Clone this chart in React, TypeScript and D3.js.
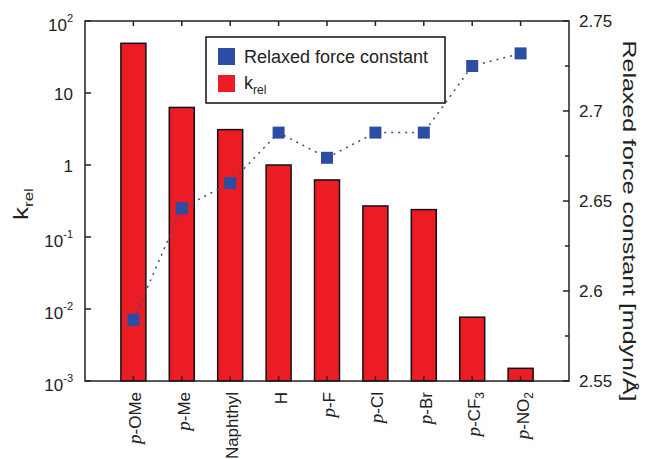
import React from 'react';
import { scaleLog, scaleLinear, scalePoint, line } from 'd3';

// categories, as printed under the bars
const categories = ['p-OMe', 'p-Me', 'Naphthyl', 'H', 'p-F', 'p-Cl', 'p-Br', 'p-CF3', 'p-NO2'];
// relative rate constants (left, log axis)
const krel = [49, 6.3, 3.1, 1.0, 0.62, 0.27, 0.24, 0.0077, 0.0015];
// relaxed force constants in mdyn/Å (right axis)
const forceConst = [2.584, 2.646, 2.66, 2.688, 2.674, 2.688, 2.688, 2.725, 2.732];

const leftTicks = [1e2, 1e1, 1, 1e-1, 1e-2, 1e-3];
const leftTickLabels: [string, string][] = [['10', '2'], ['10', ''], ['1', ''], ['10', '-1'], ['10', '-2'], ['10', '-3']];
const rightTicks = [2.55, 2.6, 2.65, 2.7, 2.75];
const rightMinorTicks = [2.575, 2.625, 2.675, 2.725];

const W = 649;
const H = 459;
const m = { left: 85, right: 569, top: 21, bottom: 381 };

const RED = '#ec1c24';
const BLUE = '#2b4ea4';
const AXIS = '#222';
const SANS = '"Liberation Sans", Arial, Helvetica, sans-serif';
const SERIF = '"Liberation Serif", "Times New Roman", serif';

// splits "p-CF3" into italic p, body and subscript digits
function CategoryLabel({ name }: { name: string }) {
  const italic = name.startsWith('p-');
  const rest = italic ? name.slice(1) : name;
  const match = rest.match(/^(.*?)(\d*)$/);
  const body = match ? match[1] : rest;
  const sub = match ? match[2] : '';
  return (
    <>
      {italic && <tspan fontFamily={SERIF} fontStyle="italic" fontSize={19}>p</tspan>}
      <tspan>{body}</tspan>
      {sub && <tspan fontSize={12} dy={4}>{sub}</tspan>}
    </>
  );
}

export default function App() {
  const x = scalePoint<string>().domain(categories).range([m.left, m.right]).padding(1);
  const yLeft = scaleLog().domain([1e-3, 1e2]).range([m.bottom, m.top]);
  const yRight = scaleLinear().domain([2.55, 2.75]).range([m.bottom, m.top]);

  const barW = 25;
  const sq = 12;

  const pts = categories.map((c, i) => [x(c) as number, yRight(forceConst[i])] as [number, number]);
  const path = line()(pts) || '';

  return (
    <svg width={W} height={H} style={{ position: 'absolute', left: 0, top: 0, background: '#fff' }}
      fontFamily={SANS}>
      {/* bars */}
      {categories.map((c, i) => (
        <rect key={c}
          x={(x(c) as number) - barW / 2}
          y={yLeft(krel[i])}
          width={barW}
          height={m.bottom - yLeft(krel[i])}
          fill={RED} stroke="#111" strokeWidth={1.5} />
      ))}

      {/* frame */}
      <rect x={m.left} y={m.top} width={m.right - m.left} height={m.bottom - m.top}
        fill="none" stroke={AXIS} strokeWidth={1.5} />

      {/* category ticks top and bottom */}
      {categories.map(c => (
        <g key={c} stroke={AXIS} strokeWidth={1.5}>
          <line x1={x(c)} x2={x(c)} y1={m.top} y2={m.top + 5} />
          <line x1={x(c)} x2={x(c)} y1={m.bottom} y2={m.bottom - 5} />
        </g>
      ))}

      {/* left log axis */}
      {leftTicks.map((t, i) => {
        const y = yLeft(t);
        const [base, exp] = leftTickLabels[i];
        return (
          <g key={t}>
            <line x1={m.left} x2={m.left + 6} y1={y} y2={y} stroke={AXIS} strokeWidth={1.5} />
            <text x={73} y={y + (exp ? 10 : 7)} textAnchor="end" fontSize={17} fill="#222">
              {base}
              {exp && <tspan fontSize={11} dy={-9}>{exp}</tspan>}
            </text>
          </g>
        );
      })}

      {/* right linear axis */}
      {rightTicks.map(t => (
        <g key={t}>
          <line x1={m.right} x2={m.right - 6} y1={yRight(t)} y2={yRight(t)} stroke={AXIS} strokeWidth={1.5} />
          <text x={579} y={yRight(t) + 6} fontSize={17} fill="#222">{String(t)}</text>
        </g>
      ))}
      {rightMinorTicks.map(t => (
        <line key={t} x1={m.right} x2={m.right - 4} y1={yRight(t)} y2={yRight(t)} stroke={AXIS} strokeWidth={1.5} />
      ))}

      {/* category labels */}
      {categories.map(c => (
        <text key={c} transform={`translate(${(x(c) as number) + 8},392) rotate(-90)`}
          textAnchor="end" fontSize={17} fill="#222">
          <CategoryLabel name={c} />
        </text>
      ))}

      {/* axis titles */}
      <text transform="translate(28,204) rotate(-90) scale(1.3,1)" textAnchor="middle" fontSize={20} fill="#222">
        k<tspan fontSize={13} dy={5}>rel</tspan>
      </text>
      <text transform="translate(623,221) rotate(90)" textAnchor="middle" fontSize={19} fill="#222"
        textLength={361} lengthAdjust="spacingAndGlyphs">
        Relaxed force constant [mdyn/Å]
      </text>

      {/* force constant series */}
      <path d={path} fill="none" stroke={BLUE} strokeWidth={1.5} strokeDasharray="2,5" />
      {pts.map(([px, py], i) => (
        <rect key={i} x={px - sq / 2} y={py - sq / 2} width={sq} height={sq} fill={BLUE} />
      ))}

      {/* legend */}
      <rect x={206} y={37} width={239} height={66} fill="#fff" stroke="#111" strokeWidth={1.5} />
      <rect x={218} y={48} width={17} height={17} fill={BLUE} />
      <text x={244} y={63} fontSize={18} fill="#222">Relaxed force constant</text>
      <rect x={218} y={75} width={17} height={17} fill={RED} />
      <text x={244} y={89} fontSize={18} fill="#222">
        k<tspan fontSize={12} dy={5}>rel</tspan>
      </text>
    </svg>
  );
}
